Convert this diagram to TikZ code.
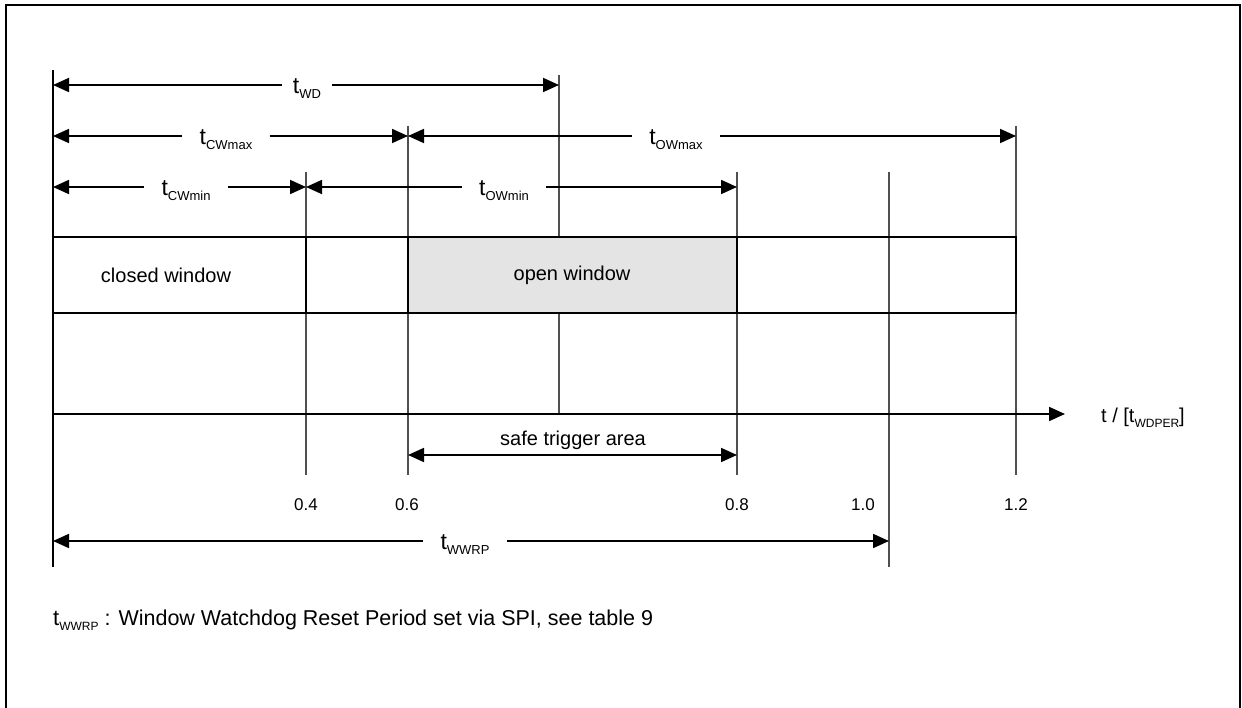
\documentclass[tikz,border=0pt]{standalone}
\usepackage{fontspec}
\setmainfont{Liberation Sans}
\usetikzlibrary{arrows.meta}
\newcommand\tsub[1]{{\fontsize{23}{26}\selectfont t}\raisebox{-5pt}{\fontsize{13}{13}\selectfont #1}}
\newcommand\tsubsmall[1]{{\fontsize{22}{26}\selectfont t}\raisebox{-5pt}{\fontsize{12}{12}\selectfont #1}}
\definecolor{guidegray}{HTML}{505050}
\definecolor{winfill}{HTML}{E4E4E4}
\tikzset{
  guide/.style={draw=guidegray, line width=1.3pt},
  dimline/.style={draw=black, line width=1.8pt},
  boxline/.style={draw=black, line width=2pt},
  lbl/.style={fill=white, inner xsep=17pt, inner ysep=2pt, font=\fontsize{20}{24}\selectfont},
  txt/.style={inner sep=0pt, font=\fontsize{20}{24}\selectfont},
  tick/.style={inner sep=0pt, font=\fontsize{17}{20}\selectfont},
  >={Triangle[length=16pt,width=14pt]}
}
\begin{document}
\begin{tikzpicture}[x=1pt,y=-1pt]
\clip (0,0) rectangle (1242,708);
\draw[line width=2.5pt] (6,5) rectangle (1240,740);

% guide lines
\coordinate (g0t) at (53,70);   \coordinate (g0b) at (53,567);
\coordinate (g4t) at (306,172); \coordinate (g4b) at (306,475);
\coordinate (g6t) at (408,126); \coordinate (g6b) at (408,475);
\coordinate (g7t) at (559,75);  \coordinate (g7b) at (559,414);
\coordinate (g8t) at (737,172); \coordinate (g8b) at (737,475);
\coordinate (g10t) at (889,172); \coordinate (g10b) at (889,567);
\coordinate (g12t) at (1016,126); \coordinate (g12b) at (1016,475);

\draw[guide] (g4t) -- (g4b);
\draw[guide] (g6t) -- (g6b);
\draw[guide] (g7t) -- (g7b);
\draw[guide] (g8t) -- (g8b);
\draw[guide] (g10t) -- (g10b);
\draw[guide] (g12t) -- (g12b);
\draw[draw=black, line width=1.8pt] (g0t) -- (g0b);

% window bar
\fill[winfill] (408,237) rectangle (737,313);
\draw[boxline] (53,237) rectangle (1016,313);
\draw[boxline] (306,237) -- (306,313);
\draw[boxline] (408,237) -- (408,313);
\draw[boxline] (737,237) -- (737,313);
\node[txt] (closed) at (166,275) {closed window};
\node[txt] (open) at (572,275) {open window};

% axis
\coordinate (o) at (53,414);
\coordinate (axend) at (1065,414);
\draw[dimline,->] (o) -- (axend);
\node[txt, anchor=west] (axlbl) at (1101,418) {t / [t\raisebox{-5pt}{\fontsize{12}{12}\selectfont WDPER}]};

% t_WD
\coordinate (wdL) at (53,85); \coordinate (wdR) at (559,85);
\node[lbl, inner xsep=11pt] (lWD) at (307,89) {\tsub{WD}};
\draw[dimline,->] (lWD.west |- wdL) -- (wdL);
\draw[dimline,->] (lWD.east |- wdR) -- (wdR);

% t_CWmax
\coordinate (cmaxL) at (53,136); \coordinate (cmaxR) at (408,136);
\node[lbl] (lCWmax) at (226,140) {\tsub{CWmax}};
\draw[dimline,->] (lCWmax.west |- cmaxL) -- (cmaxL);
\draw[dimline,->] (lCWmax.east |- cmaxR) -- (cmaxR);

% t_OWmax
\coordinate (omaxL) at (408,136); \coordinate (omaxR) at (1016,136);
\node[lbl] (lOWmax) at (676,140) {\tsub{OWmax}};
\draw[dimline,->] (lOWmax.west |- omaxL) -- (omaxL);
\draw[dimline,->] (lOWmax.east |- omaxR) -- (omaxR);

% t_CWmin
\coordinate (cminL) at (53,187); \coordinate (cminR) at (306,187);
\node[lbl] (lCWmin) at (186,191) {\tsub{CWmin}};
\draw[dimline,->] (lCWmin.west |- cminL) -- (cminL);
\draw[dimline,->] (lCWmin.east |- cminR) -- (cminR);

% t_OWmin
\coordinate (ominL) at (306,187); \coordinate (ominR) at (737,187);
\node[lbl] (lOWmin) at (504,191) {\tsub{OWmin}};
\draw[dimline,->] (lOWmin.west |- ominL) -- (ominL);
\draw[dimline,->] (lOWmin.east |- ominR) -- (ominR);

% safe trigger area
\coordinate (safeL) at (408,455); \coordinate (safeR) at (737,455);
\draw[dimline,<->] (safeL) -- (safeR);
\node[txt] (safe) at (573,440) {safe trigger area};

% tick labels
\node[tick] (t04) at (306,505) {0.4};
\node[tick] (t06) at (407,505) {0.6};
\node[tick] (t08) at (737,505) {0.8};
\node[tick] (t10) at (863,505) {1.0};
\node[tick] (t12) at (1016,505) {1.2};

% t_WWRP
\coordinate (wrL) at (53,541); \coordinate (wrR) at (889,541);
\node[lbl] (lWWRP) at (465,545) {\tsub{WWRP}};
\draw[dimline,->] (lWWRP.west |- wrL) -- (wrL);
\draw[dimline,->] (lWWRP.east |- wrR) -- (wrR);

% footnote
\node[inner sep=0pt, anchor=west, font=\fontsize{21.5}{26}\selectfont] (note) at (53,620) {\tsubsmall{WWRP} : Window Watchdog Reset Period set via SPI, see table 9};
\end{tikzpicture}
\end{document}
